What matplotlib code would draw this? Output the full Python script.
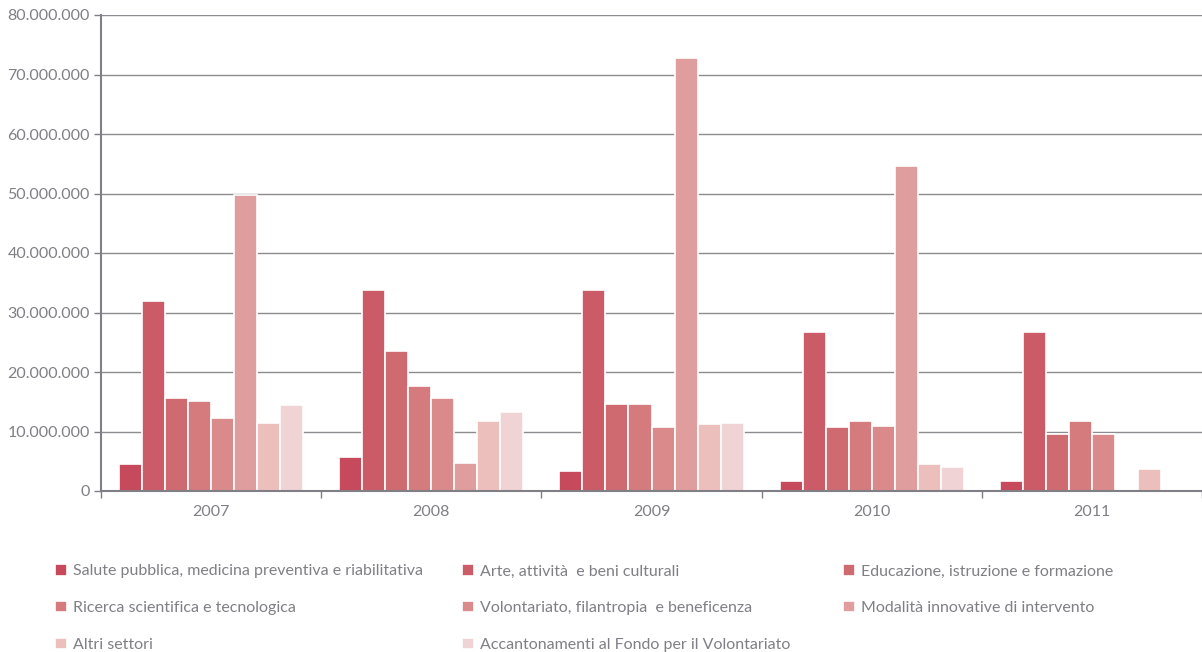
import numpy as np
import matplotlib
matplotlib.use('Agg')
import matplotlib.pyplot as plt
from matplotlib.ticker import FuncFormatter, FixedLocator

plt.rcParams['font.family'] = ['Lato', 'DejaVu Sans']

years = ['2007', '2008', '2009', '2010', '2011']
sectors = [
    'Salute pubblica, medicina preventiva e riabilitativa',
    'Arte, attività  e beni culturali',
    'Educazione, istruzione e formazione',
    'Ricerca scientifica e tecnologica',
    'Volontariato, filantropia  e beneficenza',
    'Modalità innovative di intervento',
    'Altri settori',
    'Accantonamenti al Fondo per il Volontariato',
]
# values in euro, one list per sector (2007..2011)
salute = [4.5e6, 5.7e6, 3.3e6, 1.7e6, 1.7e6]
arte = [32.0e6, 33.7e6, 33.8e6, 26.8e6, 26.8e6]
educazione = [15.7e6, 23.6e6, 14.7e6, 10.8e6, 9.6e6]
ricerca = [15.1e6, 17.7e6, 14.7e6, 11.8e6, 11.8e6]
volontariato = [12.2e6, 15.7e6, 10.8e6, 11.0e6, 9.6e6]
modalita = [49.7e6, 4.65e6, 72.7e6, 54.7e6, 0]
altri = [11.4e6, 11.8e6, 11.2e6, 4.5e6, 3.7e6]
accantonamenti = [14.5e6, 13.3e6, 11.4e6, 4.0e6, 0]
series = [salute, arte, educazione, ricerca, volontariato, modalita, altri, accantonamenti]

colors = ['#C64A5B', '#CB5B67', '#D06A71', '#D57A7D', '#DA8A8B',
          '#E09D9D', '#ECBFBC', '#F0D3D4']
grey = '#7F7F85'

fig = plt.figure(figsize=(12.02, 6.52), dpi=100)
ax = fig.add_axes([101/1202, 1-491/652, 1-101/1202, (491-15)/652])

x = np.arange(len(years))
w = 0.1045
handles = []
for i, (vals, c) in enumerate(zip(series, colors)):
    b = ax.bar(x + (i-3.5)*w, vals, width=w, color=c, edgecolor='white',
               linewidth=1.2, label=sectors[i], zorder=2)
    handles.append(b)

ax.set_xlim(-0.5, 4.5)
ax.set_ylim(0, 80e6)
ax.yaxis.set_major_locator(FixedLocator(np.arange(0, 80e6+1, 10e6)))
ax.yaxis.set_major_formatter(FuncFormatter(lambda v, p: f'{int(v):,}'.replace(',', '.')))
ax.grid(axis='y', color='#8C8C90', linewidth=1.0)
ax.set_axisbelow(True)

ax.set_xticks(x)
ax.set_xticklabels(years)
ax.set_xticks(np.arange(-0.5, 5, 1), minor=True)
ax.tick_params(axis='x', which='major', length=0, pad=10, labelsize=11.5, labelcolor=grey)
ax.tick_params(axis='x', which='minor', length=5, color=grey, width=1)
ax.tick_params(axis='y', length=5, color=grey, width=1, labelsize=11.5, labelcolor=grey, pad=3)

for s in ['top', 'right']:
    ax.spines[s].set_visible(False)
for s in ['left', 'bottom']:
    ax.spines[s].set_color(grey)
    ax.spines[s].set_linewidth(1.5)
    ax.spines[s].set_zorder(4)

# legend in three columns placed like the original
cols = [[0, 3, 6], [1, 4, 7], [2, 5]]
xpos = [55/1202, 462/1202, 843/1202]
for col, xp in zip(cols, xpos):
    fig.legend([handles[k] for k in col], [sectors[k] for k in col],
               loc='upper left', bbox_to_anchor=(xp, 1-564/652),
               frameon=False, fontsize=11.5, labelcolor=grey,
               handlelength=0.75, handleheight=0.75, handletextpad=0.35,
               labelspacing=1.4, borderpad=0, borderaxespad=0)

fig.savefig('out.png', dpi=100)
